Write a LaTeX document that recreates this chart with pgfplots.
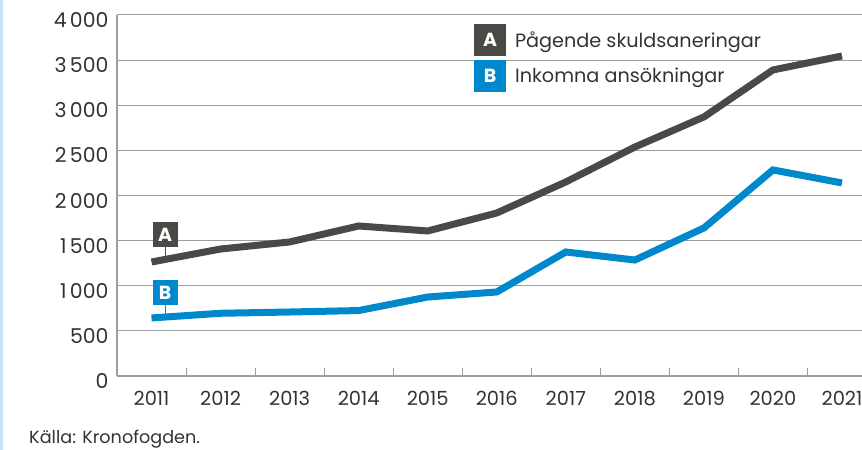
\documentclass[border=0pt]{standalone}
\usepackage{fontspec}
\setmainfont{Poppins}
\usepackage{pgfplots}
\pgfplotsset{compat=1.18}
\definecolor{darkline}{HTML}{4A4945}
\definecolor{blueline}{HTML}{0088CC}
\definecolor{gridc}{HTML}{9E9E9E}
\definecolor{leftbar}{HTML}{C5E3F6}
\definecolor{textc}{HTML}{333333}
\begin{document}
\begin{tikzpicture}[x=1bp,y=1bp]
\useasboundingbox (0,0) rectangle (862,450);
\fill[leftbar] (0,0) rectangle (3,450);
\begin{axis}[
  at={(117bp,74bp)}, anchor=south west,
  scale only axis, width=745bp, height=361bp,
  xmin=-0.5, xmax=10.29, ymin=0, ymax=4000,
  axis x line*=bottom, axis y line*=left,
  axis line style={gridc, line width=1.2bp},
  ytick={0,500,...,4000},
  ymajorgrids, major grid style={gridc, line width=1bp},
  xtick={0,...,10},
  xticklabels={2011,2012,2013,2014,2015,2016,2017,2018,2019,2020,2021},
  minor xtick={0.5,1.5,...,9.5},
  tick align=inside,
  major tick length=0pt,
  minor tick length=8bp,
  minor tick style={gridc, line width=1bp},
  /pgf/number format/assume math mode=true,
  /pgf/number format/1000 sep={\,},
  yticklabel style={font=\fontsize{20.5}{20.5}\selectfont, text=textc, xshift=-5bp, yshift=-5bp},
  xticklabel style={font=\fontsize{19.5}{19.5}\selectfont, text=textc, yshift=-12bp},
  legend style={draw=none, fill=none, at={(rel axis cs:0.479,0.975)}, anchor=north west,
    inner sep=0pt, row sep=4bp, font=\fontsize{19.3}{19.3}\selectfont, text=textc,
    legend cell align=left,
    /tikz/every odd column/.append style={column sep=7bp}},
  clip=false,
]
\addplot[darkline, line width=7bp,
  legend image code/.code={\fill[darkline] (0,-12.5bp) rectangle (25bp,12.5bp);
    \node[anchor=center, white, font=\bfseries\fontsize{19}{19}\selectfont, inner sep=0pt] at (12.5bp,0) {A};}]
  coordinates {(0,1263)(1,1407)(2,1485)(3,1662)(4,1607)(5,1806)(6,2150)(7,2537)(8,2870)(9,3391)(10,3546)};
\addlegendentry{Pågende skuldsaneringar}
\addplot[blueline, line width=7bp,
  legend image code/.code={\fill[blueline] (0,-12.5bp) rectangle (25bp,12.5bp);
    \node[anchor=center, white, font=\bfseries\fontsize{19}{19}\selectfont, inner sep=0pt] at (12.5bp,0) {B};}]
  coordinates {(0,643)(1,695)(2,709)(3,725)(4,875)(5,931)(6,1374)(7,1285)(8,1640)(9,2283)(10,2139)};
\addlegendentry{Inkomna ansökningar}
\draw[darkline, line width=1bp] (axis cs:0.196,1300) -- (axis cs:0.196,1568);
\node[fill=darkline, text=white, font=\bfseries\fontsize{19}{19}\selectfont, minimum size=25bp, inner sep=0pt] at (axis cs:0.196,1568) {A};
\draw[blueline, line width=1bp] (axis cs:0.196,660) -- (axis cs:0.196,925);
\node[fill=blueline, text=white, font=\bfseries\fontsize{19}{19}\selectfont, minimum size=25bp, inner sep=0pt] at (axis cs:0.196,925) {B};
\end{axis}
\node[anchor=base west, inner sep=0pt, font=\fontsize{17.7}{17.7}\selectfont, text=textc] at (29bp,6bp) {Källa: Kronofogden.};
\end{tikzpicture}
\end{document}
